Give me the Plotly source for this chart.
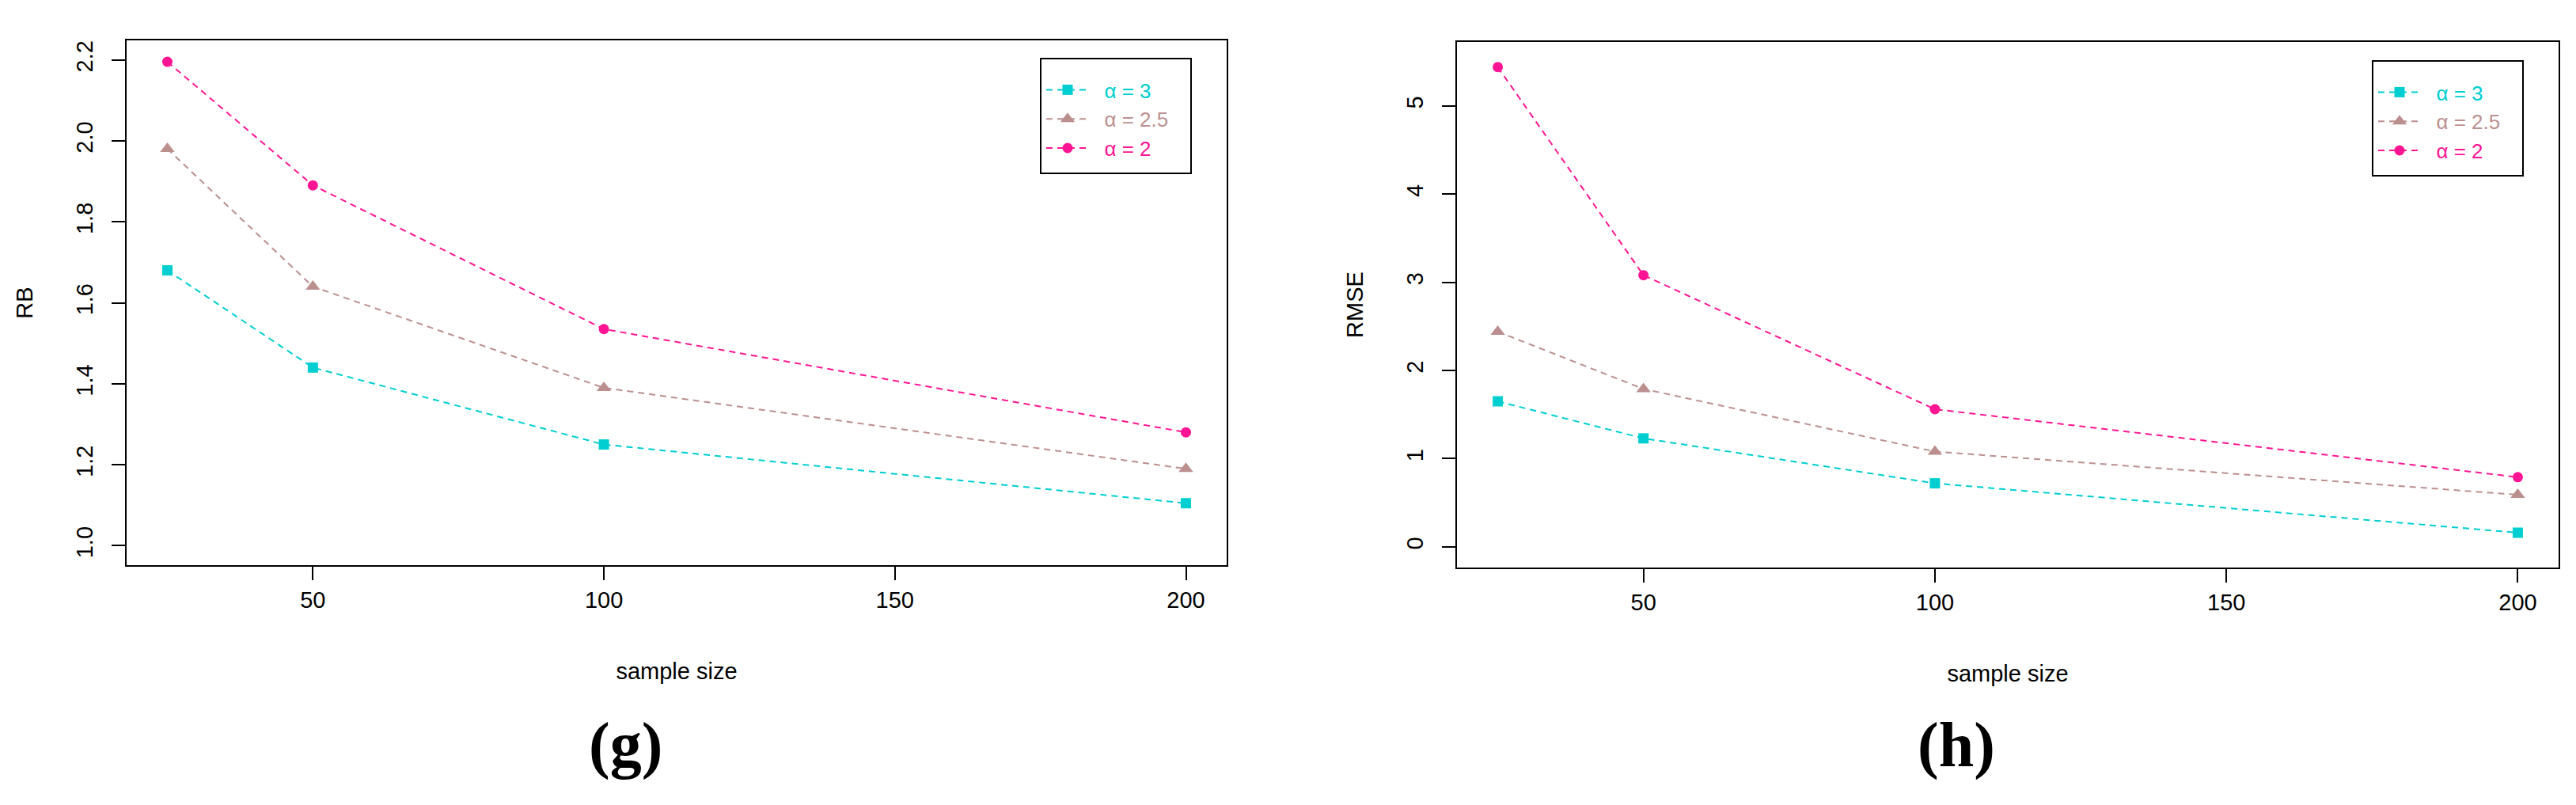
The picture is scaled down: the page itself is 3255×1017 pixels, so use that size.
import plotly.graph_objects as go

# ---------------- data ----------------
sample_size = [25, 50, 100, 200]
series_names = ["α = 3", "α = 2.5", "α = 2"]

rb_alpha3 = [1.68, 1.44, 1.25, 1.105]
rb_alpha25 = [1.98, 1.64, 1.39, 1.19]
rb_alpha2 = [2.195, 1.89, 1.535, 1.28]

rmse_alpha3 = [1.65, 1.23, 0.72, 0.16]
rmse_alpha25 = [2.44, 1.79, 1.08, 0.59]
rmse_alpha2 = [5.44, 3.08, 1.56, 0.79]

x_ticks = [50, 100, 150, 200]
rb_ticks = [1.0, 1.2, 1.4, 1.6, 1.8, 2.0, 2.2]
rmse_ticks = [0, 1, 2, 3, 4, 5]
panel_labels = ["(g)", "(h)"]
axis_titles = ["RB", "RMSE"]
x_title = "sample size"

# ---------------- styles ----------------
W, H = 3255, 1017
colors = ["#00CED1", "#BC8F8F", "#FF1493"]
symbols = ["square", "triangle-up", "circle"]
msizes = [13, 16, 13]
SANS = "Liberation Sans, Arial, sans-serif"
SERIF = "Liberation Serif, Times New Roman, serif"

fig = go.Figure()

panels = [
    ("x", "y", "legend", [rb_alpha3, rb_alpha25, rb_alpha2]),
    ("x2", "y2", "legend2", [rmse_alpha3, rmse_alpha25, rmse_alpha2]),
]
for xa, ya, lg, series in panels:
    for name, vals, c, s, ms in zip(series_names, series, colors, symbols, msizes):
        fig.add_trace(go.Scatter(
            x=sample_size, y=vals, mode="lines+markers",
            name=f'<span style="color:{c}">\u00a0\u00a0{name}</span>',
            line=dict(color=c, width=2, dash="8px,6px"),
            marker=dict(symbol=s, size=ms, color=c),
            xaxis=xa, yaxis=ya, legend=lg,
        ))

def px(v):
    return v / W

def py(v):
    return 1 - v / H

common_axis = dict(
    showline=True, linecolor="black", linewidth=2, mirror=True,
    ticks="outside", ticklen=17, tickwidth=2, tickcolor="black",
    showgrid=False, zeroline=False,
    tickfont=dict(family=SANS, size=29, color="black"),
)
title_font = dict(family=SANS, size=29, color="black")

fig.update_layout(
    width=W, height=H,
    margin=dict(l=0, r=0, t=0, b=0),
    paper_bgcolor="white", plot_bgcolor="white",
    font=dict(family=SANS, color="black"),
    xaxis=dict(domain=[px(160), px(1550)], range=[18, 207], tickvals=x_ticks,
               anchor="y", title=dict(text=x_title, standoff=65, font=title_font),
               **common_axis),
    yaxis=dict(domain=[py(714), py(51)], range=[0.952, 2.248], tickvals=rb_ticks,
               tickformat=".1f", tickangle=-90, anchor="x", ticklabelstandoff=12,
               title=dict(text=axis_titles[0], standoff=41, font=title_font),
               **common_axis),
    xaxis2=dict(domain=[px(1841), px(3233)], range=[18, 207], tickvals=x_ticks,
                anchor="y2", title=dict(text=x_title, standoff=65, font=title_font),
                **common_axis),
    yaxis2=dict(domain=[py(717), py(53)], range=[-0.235, 5.725], tickvals=rmse_ticks,
                tickangle=-90, anchor="x2", ticklabelstandoff=12,
                title=dict(text=axis_titles[1], standoff=41, font=title_font),
                **common_axis),
    legend=dict(x=px(1317), y=py(90), xanchor="left", yanchor="top",
                bgcolor="rgba(0,0,0,0)", borderwidth=0, itemwidth=54,
                font=dict(family=SANS, size=26)),
    legend2=dict(x=px(3000), y=py(93), xanchor="left", yanchor="top",
                 bgcolor="rgba(0,0,0,0)", borderwidth=0, itemwidth=54,
                 font=dict(family=SANS, size=26)),
    showlegend=True,
)

# legend frames
for x0, x1, y0, y1 in [(1315, 1505, 74, 219), (2998, 3188, 77, 222)]:
    fig.add_shape(type="rect", xref="paper", yref="paper",
                  x0=px(x0), x1=px(x1), y0=py(y1), y1=py(y0),
                  line=dict(color="black", width=2), fillcolor="rgba(0,0,0,0)")

# panel labels
for lab, cx in zip(panel_labels, [790, 2472]):
    fig.add_annotation(text=f"<b>{lab}</b>", xref="paper", yref="paper",
                       x=px(cx), y=py(941), xanchor="center", yanchor="middle",
                       showarrow=False, font=dict(family=SERIF, size=80, color="black"))

fig.write_html("out.html")
